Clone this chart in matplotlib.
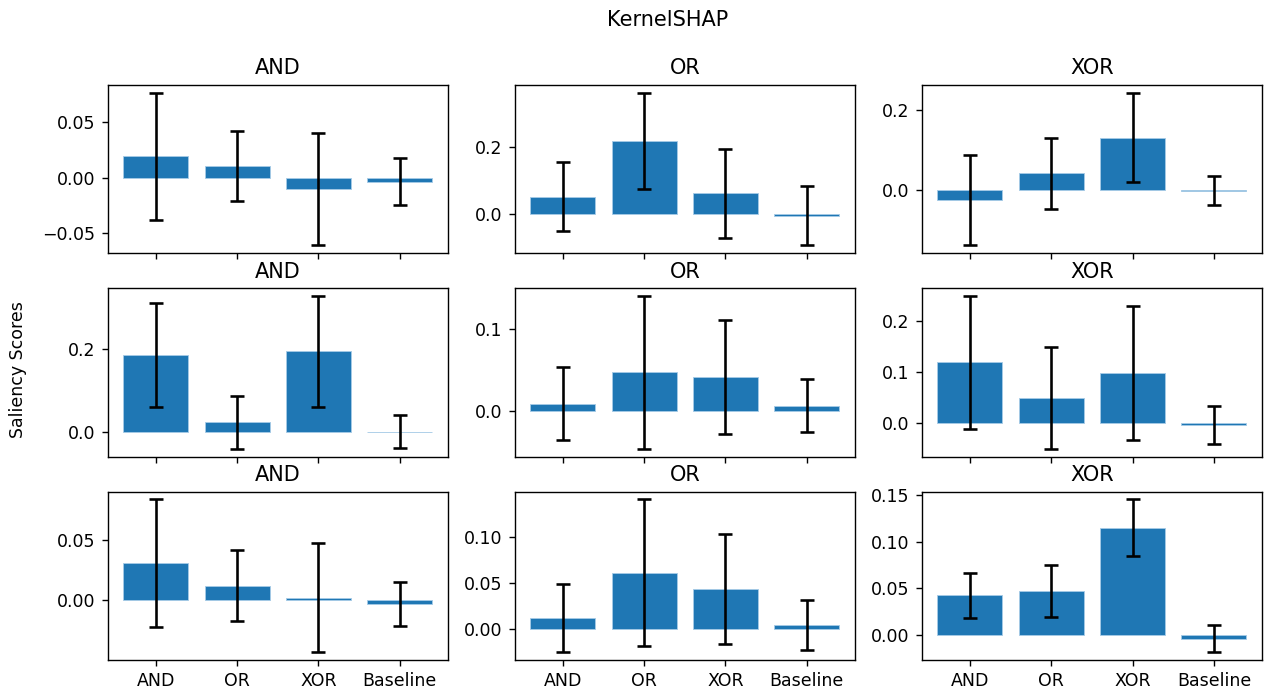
import matplotlib
matplotlib.use("Agg")
import matplotlib.pyplot as plt
import numpy as np

categories = ["AND", "OR", "XOR", "Baseline"]
row_titles = ["AND", "OR", "XOR"]

# mean saliency scores, one list per panel (row, col)
means = [
    [[0.0195, 0.0108, -0.0102, -0.0036],
     [0.0517, 0.218, 0.0627, -0.005],
     [-0.025, 0.0418, 0.132, -0.0015]],
    [[0.187, 0.0233, 0.195, 0.0005],
     [0.0085, 0.0467, 0.041, 0.0061],
     [0.118, 0.0487, 0.0974, -0.004]],
    [[0.0309, 0.0123, 0.0022, -0.003],
     [0.0121, 0.0609, 0.0438, 0.0053],
     [0.0424, 0.0467, 0.115, -0.0039]],
]

# symmetric error bar half-widths
errors = [
    [[0.0575, 0.0315, 0.051, 0.0213],
     [0.103, 0.144, 0.1324, 0.088],
     [0.114, 0.090, 0.113, 0.036]],
    [[0.126, 0.064, 0.134, 0.0395],
     [0.0443, 0.0937, 0.070, 0.032],
     [0.130, 0.0997, 0.132, 0.0377]],
    [[0.0525, 0.029, 0.045, 0.018],
     [0.0367, 0.079, 0.059, 0.0269],
     [0.0239, 0.0278, 0.030, 0.0146]],
]

fig, axes = plt.subplots(3, 3, figsize=(10.136, 5.52), dpi=125, sharex=True)
fig.subplots_adjust(left=0.085, right=0.996, top=0.877, bottom=0.0435,
                    wspace=0.197, hspace=0.21)

x = np.arange(len(categories))
for i in range(3):
    for j in range(3):
        ax = axes[i, j]
        ax.bar(x, means[i][j], yerr=errors[i][j], capsize=4, color="#1f77b4",
               edgecolor="#a6cbe6", linewidth=0.5,
               error_kw={"elinewidth": 1.5, "capthick": 1.5, "ecolor": "black"})
        ax.set_title(row_titles[j])

axes[-1, 0].set_xticks(x)
axes[-1, 0].set_xticklabels(categories)

fig.suptitle("KernelSHAP", fontsize=12, x=0.527, y=0.986)
fig.text(0.014, 0.465, "Saliency Scores", rotation=90, va="center", ha="center")

plt.savefig("out.png")
